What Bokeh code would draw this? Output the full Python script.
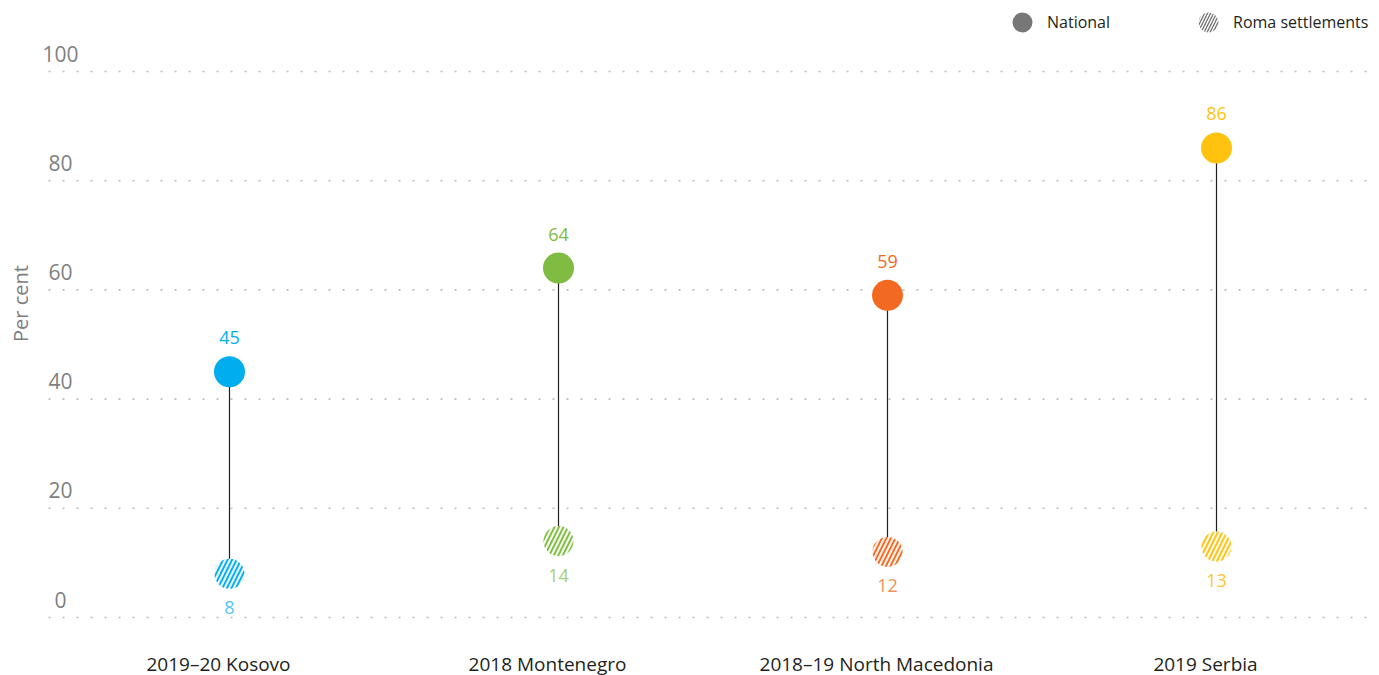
import math
from bokeh.plotting import figure
from bokeh.models import Range1d, Legend, LegendItem, ColumnDataSource
from bokeh.core.properties import value
from bokeh.embed import file_html
from bokeh.resources import INLINE

# ---- data ----
categories = ["2019\u201320 Kosovo", "2018 Montenegro", "2018\u201319 North Macedonia", "2019 Serbia"]
national = [45, 64, 59, 86]
roma = [8, 14, 12, 13]
colors = ["#00AEEF", "#80BC41", "#F26A21", "#FFC20E"]
roma_label_colors = ["#55C6F2", "#A5CE7A", "#F4905A", "#FFC62A"]
y_ticks = [0, 20, 40, 60, 80, 100]

FONT = "Open Sans"

# ---- layout constants (canvas pixels) ----
W, H = 1379, 675
PX_X, PX_Y = 329.0, 5.46
CAT0_PX = 229.0      # canvas x of the first category
ZERO_PX = 617.0      # canvas y of value 0

x_start = -CAT0_PX / PX_X
x_end = x_start + W / PX_X
y_end = ZERO_PX / PX_Y
y_start = (ZERO_PX - H) / PX_Y

def xd(cx):
    return x_start + cx / PX_X

def yd(cy):
    return (ZERO_PX - cy) / PX_Y

def tint(c, f):
    c = c.lstrip("#")
    r, g, b = (int(c[i:i + 2], 16) for i in (0, 2, 4))
    mix = lambda v: int(round(255 - (255 - v) * f))
    return "#%02X%02X%02X" % (mix(r), mix(g), mix(b))

xs = list(range(len(categories)))

p = figure(width=W, height=H, output_backend="svg", toolbar_location=None,
           x_range=Range1d(x_start, x_end), y_range=Range1d(y_start, y_end),
           x_axis_type=None, y_axis_type=None,
           min_border_left=0, min_border_right=0, min_border_top=0, min_border_bottom=0)
p.outline_line_color = None
p.background_fill_color = "white"
p.border_fill_color = "white"

# dotted gridlines
gx0, gx1 = xd(48), xd(1370)
p.segment(x0=[gx0] * len(y_ticks), x1=[gx1] * len(y_ticks), y0=y_ticks, y1=y_ticks,
          line_color="#BDBDBD", line_width=1.6, line_dash="2 12")

# y tick labels
p.text(x=[xd(60)] * len(y_ticks), y=y_ticks, text=[str(t) for t in y_ticks],
       text_align="center", text_baseline="middle", y_offset=-18,
       text_font=value(FONT), text_font_size="21px", text_color="#7F7F7F")

# y axis title
p.text(x=[xd(20)], y=[57.5], text=["Per cent"], angle=math.pi / 2,
       text_align="center", text_baseline="middle",
       text_font=value(FONT), text_font_size="20px", text_color="#7F7F7F")

src = ColumnDataSource(dict(
    x=xs, national=national, roma=roma, color=colors,
    tint=[tint(c, 0.10) for c in colors],
    nlab=[str(v) for v in national], rlab=[str(v) for v in roma],
    rcol=roma_label_colors,
))

# connectors
p.segment(x0="x", x1="x", y0="roma", y1="national", source=src,
          line_color="#231F20", line_width=1.2)

# national dots
p.scatter(x="x", y="national", source=src, size=31, fill_color="color", line_color=None)

# roma dots (hatched)
p.scatter(x="x", y="roma", source=src, size=30, fill_color="tint", line_color=None,
          hatch_pattern="/", hatch_color="color", hatch_scale=9, hatch_weight=1.8)

# value labels
p.text(x="x", y="national", text="nlab", source=src, y_offset=-34,
       text_align="center", text_baseline="middle",
       text_font=value(FONT), text_font_size="18px", text_color="color")
p.text(x="x", y="roma", text="rlab", source=src, y_offset=34,
       text_align="center", text_baseline="middle",
       text_font=value(FONT), text_font_size="18px", text_color="rcol")

# category labels
p.text(x=xs, y=[yd(663)] * len(xs), text=categories, x_offset=-11,
       text_align="center", text_baseline="middle",
       text_font=value(FONT), text_font_size="19px", text_color="#231F20")

# legend (renderers with a single off-screen point, only used for the legend)
nan = float("nan")
r_nat = p.scatter(x=[nan], y=[nan], fill_color="#777777", line_color=None)
r_rom = p.scatter(x=[nan], y=[nan], fill_color="white", line_color=None,
                  hatch_pattern="/", hatch_color="#6E6E6E", hatch_scale=6, hatch_weight=1.3)
GL = 50
legend = Legend(items=[LegendItem(label="National", renderers=[r_nat]),
                       LegendItem(label="Roma settlements", renderers=[r_rom])],
                orientation="horizontal", glyph_width=GL, glyph_height=GL,
                label_standoff=0, spacing=73, padding=0, margin=0,
                border_line_color=None, background_fill_alpha=0,
                label_text_font=FONT, label_text_font_size="16px", label_text_color="#231F20",
                location=(1022 - GL / 2, H - 22 - GL / 2))
p.add_layout(legend, "center")

open("out.html", "w").write(file_html(p, INLINE))
